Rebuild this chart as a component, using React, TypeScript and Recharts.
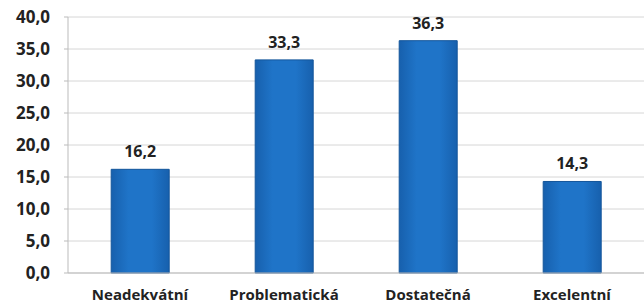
import React from "react";
import { BarChart, Bar, XAxis, YAxis, CartesianGrid, LabelList } from "recharts";

const categories = ["Neadekvátní", "Problematická", "Dostatečná", "Excelentní"];
const values = [16.2, 33.3, 36.3, 14.3];
const yTicks = [0, 5, 10, 15, 20, 25, 30, 35, 40];

const data = categories.map((c, i) => ({ name: c, value: values[i] }));

const fmt = (v: number) => v.toFixed(1).replace(".", ",");

export default function App() {
  const font = "'Open Sans', 'DejaVu Sans', sans-serif";
  return (
    <div style={{ position: "absolute", left: 0, top: 0, background: "#fff" }}>
      <BarChart
        width={644}
        height={308}
        data={data}
        margin={{ top: 17, right: 0, bottom: 0, left: 0 }}
        barCategoryGap="30%"
      >
        <defs>
          <linearGradient id="barGrad" x1="0" y1="0" x2="1" y2="0">
            <stop offset="0%" stopColor="#1760ad" />
            <stop offset="30%" stopColor="#1f74c8" />
            <stop offset="70%" stopColor="#1f74c8" />
            <stop offset="100%" stopColor="#1760ad" />
          </linearGradient>
        </defs>
        <CartesianGrid vertical={false} stroke="#d6d6d6" />
        <XAxis
          dataKey="name"
          height={35}
          tickLine={false}
          axisLine={{ stroke: "#bbbbbb" }}
          tick={{ fill: "#222", fontSize: 15, fontWeight: 700, fontFamily: font }}
          tickMargin={10}
          interval={0}
        />
        <YAxis
          width={68}
          domain={[0, 40]}
          ticks={yTicks}
          tickFormatter={fmt}
          axisLine={{ stroke: "#bbbbbb" }}
          tickLine={{ stroke: "#bbbbbb" }}
          tickSize={4}
          tickMargin={14}
          tick={{ fill: "#222", fontSize: 17, fontWeight: 700, fontFamily: font }}
        />
        <Bar dataKey="value" fill="url(#barGrad)" stroke="#13559a" strokeWidth={1} isAnimationActive={false}>
          <LabelList
            dataKey="value"
            position="top"
            offset={12}
            formatter={(v: number) => fmt(v)}
            style={{ fill: "#222", fontSize: 16, fontWeight: 700, fontFamily: font }}
          />
        </Bar>
      </BarChart>
    </div>
  );
}
